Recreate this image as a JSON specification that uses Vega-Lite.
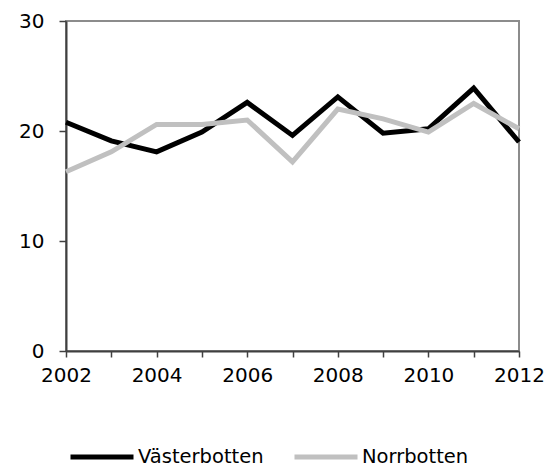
{
  "$schema": "https://vega.github.io/schema/vega-lite/v6.json",
  "autosize": "none",
  "width": 453,
  "height": 330,
  "padding": {"left": 66, "top": 21, "right": 38, "bottom": 117},
  "background": "white",
  "config": {
    "view": {"stroke": "#8c8c8c", "strokeWidth": 2},
    "font": "DejaVu Sans"
  },
  "data": {
    "values": [
      {"year": 2002, "region": "Västerbotten", "value": 20.8},
      {"year": 2003, "region": "Västerbotten", "value": 19.1},
      {"year": 2004, "region": "Västerbotten", "value": 18.1},
      {"year": 2005, "region": "Västerbotten", "value": 19.9},
      {"year": 2006, "region": "Västerbotten", "value": 22.6},
      {"year": 2007, "region": "Västerbotten", "value": 19.6},
      {"year": 2008, "region": "Västerbotten", "value": 23.1},
      {"year": 2009, "region": "Västerbotten", "value": 19.8},
      {"year": 2010, "region": "Västerbotten", "value": 20.2},
      {"year": 2011, "region": "Västerbotten", "value": 23.9},
      {"year": 2012, "region": "Västerbotten", "value": 19.0},
      {"year": 2002, "region": "Norrbotten", "value": 16.3},
      {"year": 2003, "region": "Norrbotten", "value": 18.1},
      {"year": 2004, "region": "Norrbotten", "value": 20.6},
      {"year": 2005, "region": "Norrbotten", "value": 20.6},
      {"year": 2006, "region": "Norrbotten", "value": 21.0},
      {"year": 2007, "region": "Norrbotten", "value": 17.2},
      {"year": 2008, "region": "Norrbotten", "value": 22.0},
      {"year": 2009, "region": "Norrbotten", "value": 21.1},
      {"year": 2010, "region": "Norrbotten", "value": 19.9},
      {"year": 2011, "region": "Norrbotten", "value": 22.5},
      {"year": 2012, "region": "Norrbotten", "value": 20.2}
    ]
  },
  "mark": {"type": "line", "strokeWidth": 5, "strokeJoin": "miter"},
  "encoding": {
    "x": {
      "field": "year",
      "type": "quantitative",
      "scale": {"domain": [2002, 2012], "nice": false, "zero": false},
      "axis": {
        "title": null,
        "grid": false,
        "values": [2002, 2003, 2004, 2005, 2006, 2007, 2008, 2009, 2010, 2011, 2012],
        "labelExpr": "datum.value % 2 == 0 ? datum.value : ''",
        "format": "d",
        "labelFontSize": 20,
        "labelColor": "#000000",
        "labelPadding": 8,
        "labelFlush": false,
        "labelOverlap": false,
        "tickSize": 6,
        "tickColor": "#404040",
        "tickWidth": 1.5,
        "domainColor": "#404040",
        "domainWidth": 2
      }
    },
    "y": {
      "field": "value",
      "type": "quantitative",
      "scale": {"domain": [0, 30], "nice": false},
      "axis": {
        "title": null,
        "grid": false,
        "values": [0, 10, 20, 30],
        "labelFontSize": 20,
        "labelColor": "#000000",
        "labelPadding": 15,
        "tickSize": 7,
        "tickColor": "#404040",
        "tickWidth": 1.5,
        "domainColor": "#404040",
        "domainWidth": 2
      }
    },
    "color": {
      "field": "region",
      "type": "nominal",
      "sort": ["Västerbotten", "Norrbotten"],
      "scale": {"domain": ["Västerbotten", "Norrbotten"], "range": ["#000000", "#c0c0c0"]},
      "legend": {
        "title": null,
        "orient": "none",
        "direction": "horizontal",
        "legendX": 2,
        "legendY": 402,
        "padding": 0,
        "symbolType": "stroke",
        "symbolSize": 3969,
        "symbolStrokeWidth": 5,
        "labelFontSize": 19.5,
        "labelColor": "#000000",
        "labelOffset": 2,
        "columnPadding": 20
      }
    }
  }
}
